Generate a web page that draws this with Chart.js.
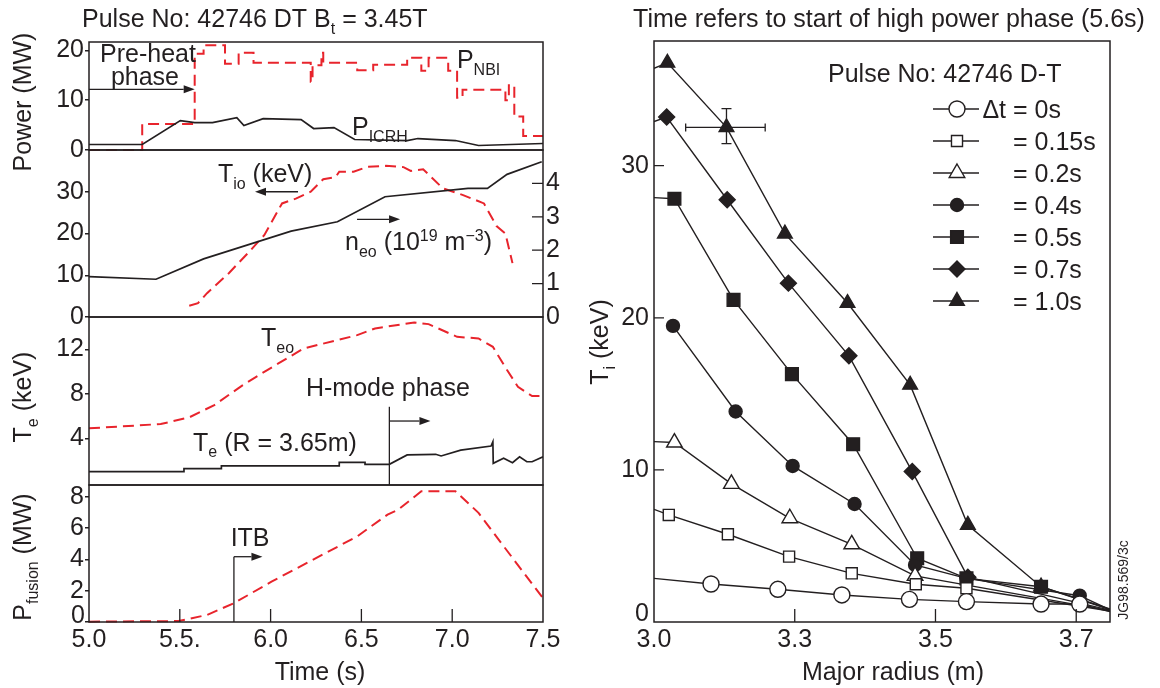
<!DOCTYPE html>
<html>
<head>
<meta charset="utf-8">
<script src="https://cdn.jsdelivr.net/npm/chart.js@4.4.1/dist/chart.umd.min.js"></script>
<style>
  html, body { margin: 0; padding: 0; background: #fff; }
  #wrap { position: relative; width: 1160px; height: 688px; }
  #wrap canvas { position: absolute; left: 0; top: 0; }
</style>
</head>
<body>
<div id="wrap">
  <canvas id="c1" width="1160" height="688"></canvas>
  <canvas id="c2" width="1160" height="688"></canvas>
  <canvas id="c3" width="1160" height="688"></canvas>
  <canvas id="c4" width="1160" height="688"></canvas>
  <canvas id="c5" width="1160" height="688"></canvas>
</div>
<script>
const INK  = '#231f20';
const RED  = '#e8242c';
const FONT = '"Liberation Sans", Arial, Helvetica, sans-serif';

/* ---------- data: left panels (time, s) ---------- */
const NBI_T  = [5.0, 5.293, 5.582, 5.631, 5.749, 5.824, 5.906, 6.221, 6.231, 6.280, 6.290, 6.477, 6.565, 6.752, 6.830, 6.870, 6.978, 7.027, 7.057, 7.293, 7.312, 7.342, 7.391, 7.5];
const NBI_P  = [0,   5.2,   19.3,  21.0,  17.3,  19.5,  17.5,  13.7,  17.0,  19.5,  17.5,  16.0,  17.1,  18.5,  15.9,  18.5,  15.9,  10.5,  12.1,  10.0,  13.0,  6.7,   2.8,   2.8];
const ICRH_T = [5.0, 5.293, 5.503, 5.582, 5.680, 5.814, 5.853, 5.959, 6.168, 6.237, 6.349, 6.463, 6.752, 6.811, 7.018, 7.145, 7.5];
const ICRH_P = [1.1, 1.1,   5.9,   5.5,   5.5,   6.5,   4.9,   6.3,   6.1,   4.3,   4.5,   2.1,   1.9,   2.3,   1.9,   0.9,   1.3];

const TI_T   = [5.552, 5.60, 5.65, 5.77, 5.89, 5.965, 6.063, 6.142, 6.221, 6.29, 6.358, 6.378, 6.457, 6.535, 6.634, 6.732, 6.772, 6.84, 6.949, 7.06, 7.175, 7.244, 7.293, 7.332];
const TI_KEV = [2.7,   3.3,  5.7,  10.5, 16.0, 19.6,  27.2,  28.4,  30.0,  33.0, 33.5,  34.8,  34.8,  36.0,  36.2,  35.9,  35.0,  35.4, 30.8,  29.2, 27.2,  21.8,  20.0,  12.9];
const NE_T   = [5.0,  5.369, 5.631, 6.113, 6.368, 6.630, 7.087, 7.194, 7.302, 7.493];
const NE_V   = [1.21, 1.13,  1.74,  2.57,  2.85,  3.60,  3.85,  3.85,  4.27,  4.65];

const TEO_T   = [5.0,  5.395, 5.552, 5.690, 5.847, 5.965, 6.182, 6.477, 6.575, 6.791, 6.870, 7.027, 7.145, 7.224, 7.302, 7.362, 7.440, 7.5];
const TEO_KEV = [4.89, 5.28,  5.88,  6.98,  8.78,  9.97,  12.07, 13.27, 13.87, 14.41, 14.26, 13.12, 12.97, 12.22, 10.13, 8.63,  7.79,  7.79];
const TE365_T   = [5.0, 5.523, 5.523, 5.729, 5.729, 6.378, 6.378, 6.520, 6.520, 6.654, 6.752, 6.909, 6.939, 7.047, 7.214, 7.224, 7.226, 7.283, 7.332, 7.371, 7.411, 7.44, 7.5];
const TE365_KEV = [1.0, 1.0,   1.27,  1.27,  1.51,  1.51,  1.84,  1.84,  1.66,  1.66,  2.50,  2.56,  2.41,  2.94,  3.30,  3.69,  1.75,  2.20,  1.80,  2.34,  1.89,  1.89, 2.34];

const PF_T  = [5.0,  5.493, 5.650, 5.798, 6.005, 6.477, 6.644, 6.703, 6.830, 7.018, 7.145, 7.263, 7.5];
const PF_MW = [0.02, 0.06,  0.45,  1.2,   2.58,  5.47,  6.86,  7.18,  8.35,  8.35,  6.97,  5.15,  1.52];

/* ---------- data: right panel (major radius, m / Ti, keV) ---------- */
const DT_LABELS = ['Δt = 0s', '= 0.15s', '= 0.2s', '= 0.4s', '= 0.5s', '= 0.7s', '= 1.0s'];
const R_000 = [3.10, 3.181, 3.276, 3.367, 3.463, 3.544, 3.650, 3.705, 3.748];
const T_000 = [2.87, 2.50,  2.15,  1.78,  1.49,  1.34,  1.18,  1.18,  0.68];
const R_015 = [3.10, 3.121, 3.205, 3.292, 3.381, 3.472, 3.544, 3.748];
const T_015 = [7.41, 7.04,  5.77,  4.30,  3.20,  2.48,  2.22,  0.72];
const R_020 = [3.10,  3.129, 3.210, 3.293, 3.381, 3.471, 3.748];
const T_020 = [11.86, 11.80, 9.08,  6.82,  5.11,  3.03,  0.75];
const R_040 = [3.127, 3.216, 3.297, 3.385, 3.471, 3.544, 3.705, 3.748];
const T_040 = [19.47, 13.84, 10.26, 7.76,  3.75,  2.87,  1.73,  0.80];
const R_050 = [3.10, 3.129, 3.213, 3.296, 3.383, 3.474, 3.544, 3.650, 3.748];
const T_050 = [27.9, 27.83, 21.18, 16.30, 11.69, 4.19,  2.87,  2.32,  0.82];
const R_070 = [3.10, 3.118, 3.204, 3.291, 3.377, 3.467, 3.546, 3.748];
const T_070 = [32.9, 33.20, 27.76, 22.28, 17.50, 9.89,  2.95,  0.78];
const R_100 = [3.10, 3.119, 3.203, 3.286, 3.375, 3.464, 3.546, 3.650, 3.748];
const T_100 = [36.4, 36.76, 32.52, 25.53, 20.97, 15.59, 6.38,  2.32,  0.85];
const ERR_R  = [3.145, 3.258];   // horizontal error bar on the 1.0s point
const ERR_TI = [31.45, 33.75];
const ERR_AT = [3.203, 32.52];

/* ---------- ticks ---------- */
const POWER_TICKS = [0, 10, 20];
const TI_TICKS    = [0, 10, 20, 30];
const NE_TICKS    = [0, 1, 2, 3, 4];
const TE_TICKS    = [4, 8, 12];
const PF_TICKS    = [0, 2, 4, 6, 8];
const TIME_TICKS  = [5.0, 5.5, 6.0, 6.5, 7.0, 7.5];
const TIME_LABELS = ['5.0', '5.5.', '6.0', '6.5', '7.0', '7.5'];
const R_TICKS     = [3.1, 3.3, 3.5, 3.7];
const R_LABELS    = ['3.0', '3.3', '3.5', '3.7'];
const TIR_TICKS   = [0, 10, 20, 30];

Chart.defaults.font.family = FONT;
Chart.defaults.font.size = 25;
Chart.defaults.color = INK;
Chart.defaults.animation = false;
Chart.defaults.events = [];
Chart.defaults.plugins.legend.display = false;
Chart.defaults.plugins.tooltip.enabled = false;

const pts = (xs, ys) => xs.map((x, i) => ({ x, y: ys[i] }));
const fixTicks = vals => s => { s.ticks = vals.map(v => ({ value: v })); };

/* ---------- drawing helpers ---------- */
function rich(ctx, x, y, parts, size, align) {
    const seg = parts.map(([t, k]) => {
        const s = k ? size * 0.64 : size;
        ctx.font = `${s}px ${FONT}`;
        return { t, k, s, w: ctx.measureText(t).width };
    });
    const total = seg.reduce((a, b) => a + b.w, 0);
    let cx = align === 'center' ? x - total / 2 : align === 'right' ? x - total : x;
    ctx.textAlign = 'left';
    ctx.textBaseline = 'alphabetic';
    seg.forEach(s => {
        ctx.font = `${s.s}px ${FONT}`;
        const dy = s.k === 'sub' ? size * 0.27 : s.k === 'sup' ? -size * 0.36 : 0;
        ctx.fillText(s.t, cx, y + dy);
        cx += s.w;
    });
}
function vtitle(ctx, bx, cy, parts, size) {
    ctx.save();
    ctx.translate(bx, cy);
    ctx.rotate(-Math.PI / 2);
    rich(ctx, 0, 0, parts, size || 25, 'center');
    ctx.restore();
}
function arrow(ctx, x1, y1, x2, y2) {
    const a = Math.atan2(y2 - y1, x2 - x1), L = 11, W = 4;
    ctx.beginPath();
    ctx.moveTo(x1, y1);
    ctx.lineTo(x2 - L * Math.cos(a), y2 - L * Math.sin(a));
    ctx.stroke();
    ctx.beginPath();
    ctx.moveTo(x2, y2);
    ctx.lineTo(x2 - L * Math.cos(a) - W * Math.sin(a), y2 - L * Math.sin(a) + W * Math.cos(a));
    ctx.lineTo(x2 - L * Math.cos(a) + W * Math.sin(a), y2 - L * Math.sin(a) - W * Math.cos(a));
    ctx.closePath();
    ctx.fill();
}
function box(ctx, a) {
    ctx.strokeStyle = INK;
    ctx.lineWidth = 1.5;
    ctx.strokeRect(a.left, a.top, a.right - a.left, a.bottom - a.top);
}
function innerTicks(ctx, scale, vals, len, side) {
    ctx.strokeStyle = INK;
    ctx.lineWidth = 1.3;
    ctx.beginPath();
    vals.forEach(v => {
        const p = scale.getPixelForValue(v);
        if (side === 'bottom') { ctx.moveTo(p, scale.top); ctx.lineTo(p, scale.top - len); }
        if (side === 'left')   { ctx.moveTo(scale.right, p); ctx.lineTo(scale.right + len, p); }
        if (side === 'right')  { ctx.moveTo(scale.left, p); ctx.lineTo(scale.left - len, p); }
    });
    ctx.stroke();
}

/* ---------- left panel factory ---------- */
const L_LEFT = 89, L_RIGHT = 543, YW = 80;
function yLeft(min, max, ticks, labelFn) {
    return {
        type: 'linear', position: 'left', min, max,
        afterBuildTicks: fixTicks(ticks),
        afterFit: s => { s.width = YW; },
        grid: { drawOnChartArea: false, tickLength: 4, color: INK, lineWidth: 1.5 },
        border: { display: false },
        ticks: { padding: 1, callback: labelFn || (v => String(v)) }
    };
}
function xTime(show) {
    return {
        type: 'linear', min: 5.0, max: 7.5, display: show,
        afterBuildTicks: fixTicks(TIME_TICKS),
        afterFit: s => { s.height = show ? 40 : 0; },
        grid: { drawOnChartArea: false, drawTicks: false },
        border: { display: false },
        ticks: { padding: 3, autoSkip: false, maxRotation: 0, callback: (v, i) => TIME_LABELS[i] }
    };
}
function leftChart(id, top, bottom, datasets, scales, deco, hasY2, hasX) {
    return new Chart(document.getElementById(id), {
        type: 'line',
        data: { datasets },
        options: {
            responsive: false,
            layout: { padding: {
                left: L_LEFT - YW, top,
                right: 1160 - L_RIGHT - (hasY2 ? 40 : 0),
                bottom: hasX ? 688 - 622 - 40 : 688 - bottom } },
            scales
        },
        plugins: [deco]
    });
}
const redLine = d => ({ data: d, borderColor: RED, borderWidth: 2, borderDash: [11, 6], pointRadius: 0, clip: false });
const blkLine = d => ({ data: d, borderColor: INK, borderWidth: 1.7, pointRadius: 0 });

/* ---------- panel 1: power ---------- */
leftChart('c1', 42, 150,
    [blkLine(pts(ICRH_T, ICRH_P)), Object.assign(redLine(pts(NBI_T, NBI_P)), { stepped: true })],
    { x: xTime(false), y: yLeft(0, 21.66, POWER_TICKS) },
    { id: 'deco1', afterDraw(chart) {
        const { ctx, chartArea: a, scales: { x, y } } = chart;
        ctx.save();
        box(ctx, a);
        ctx.fillStyle = INK; ctx.strokeStyle = INK; ctx.lineWidth = 1.3;
        rich(ctx, 82, 27, [['Pulse No: 42746 DT B', ''], ['t', 'sub'], [' = 3.45T', '']], 25, 'left');
        vtitle(ctx, 31, 102, [['Power (MW)', '']]);
        rich(ctx, x.getPixelForValue(5.061), y.getPixelForValue(17.65), [['Pre-heat', '']], 25, 'left');
        rich(ctx, x.getPixelForValue(5.308), y.getPixelForValue(13.0), [['phase', '']], 25, 'center');
        arrow(ctx, x.getPixelForValue(5.0), y.getPixelForValue(12.17), x.getPixelForValue(5.582), y.getPixelForValue(12.17));
        rich(ctx, x.getPixelForValue(7.026), y.getPixelForValue(16.4), [['P', ''], ['NBI', 'sub']], 25, 'left');
        rich(ctx, x.getPixelForValue(6.448), y.getPixelForValue(3.0), [['P', ''], ['ICRH', 'sub']], 25, 'left');
        ctx.restore();
    } }, false, false);

/* ---------- panel 2: Ti and ne ---------- */
leftChart('c2', 150, 317,
    [Object.assign(blkLine(pts(NE_T, NE_V)), { yAxisID: 'y2' }), redLine(pts(TI_T, TI_KEV))],
    {
        x: xTime(false),
        y: yLeft(0, 40, TI_TICKS),
        y2: {
            type: 'linear', position: 'right', min: 0, max: 5,
            afterBuildTicks: fixTicks(NE_TICKS),
            afterFit: s => { s.width = 40; },
            grid: { drawOnChartArea: false, drawTicks: false },
            border: { display: false },
            ticks: { padding: 3 }
        }
    },
    { id: 'deco2', afterDraw(chart) {
        const { ctx, chartArea: a, scales: { x, y, y2 } } = chart;
        ctx.save();
        box(ctx, a);
        innerTicks(ctx, y2, [1, 2, 3, 4], 11, 'right');
        ctx.fillStyle = INK; ctx.strokeStyle = INK; ctx.lineWidth = 1.3;
        rich(ctx, x.getPixelForValue(5.710), y.getPixelForValue(32.3), [['T', ''], ['io', 'sub'], [' (keV)', '']], 25, 'left');
        arrow(ctx, x.getPixelForValue(6.151), y.getPixelForValue(30.0), x.getPixelForValue(5.914), y.getPixelForValue(30.0));
        rich(ctx, x.getPixelForValue(6.410), y.getPixelForValue(16.05),
            [['n', ''], ['eo', 'sub'], [' (10', ''], ['19', 'sup'], [' m', ''], ['\u22123', 'sup'], [')', '']], 25, 'left');
        arrow(ctx, x.getPixelForValue(6.476), y.getPixelForValue(23.4), x.getPixelForValue(6.713), y.getPixelForValue(23.4));
        ctx.restore();
    } }, true, false);

/* ---------- panel 3: Te ---------- */
leftChart('c3', 317, 485,
    [blkLine(pts(TE365_T, TE365_KEV)), redLine(pts(TEO_T, TEO_KEV))],
    { x: xTime(false), y: yLeft(-0.2, 14.9, TE_TICKS) },
    { id: 'deco3', afterDraw(chart) {
        const { ctx, chartArea: a, scales: { x, y } } = chart;
        ctx.save();
        box(ctx, a);
        ctx.fillStyle = INK; ctx.strokeStyle = INK; ctx.lineWidth = 1.3;
        vtitle(ctx, 31, 397, [['T', ''], ['e', 'sub'], [' (keV)', '']]);
        rich(ctx, x.getPixelForValue(5.947), y.getPixelForValue(12.31), [['T', ''], ['eo', 'sub']], 25, 'left');
        rich(ctx, x.getPixelForValue(5.573), y.getPixelForValue(2.88), [['T', ''], ['e', 'sub'], [' (R = 3.65m)', '']], 25, 'left');
        rich(ctx, x.getPixelForValue(6.646), y.getPixelForValue(7.76), [['H-mode phase', '']], 25, 'center');
        const hx = x.getPixelForValue(6.654);
        ctx.beginPath(); ctx.moveTo(hx, y.getPixelForValue(6.83)); ctx.lineTo(hx, a.bottom); ctx.stroke();
        arrow(ctx, hx, y.getPixelForValue(5.55), x.getPixelForValue(6.880), y.getPixelForValue(5.55));
        ctx.restore();
    } }, false, false);

/* ---------- panel 4: fusion power ---------- */
leftChart('c4', 485, 622,
    [redLine(pts(PF_T, PF_MW))],
    { x: xTime(true), y: yLeft(0, 8.75, PF_TICKS, v => (v === 0 ? '' : String(v))) },
    { id: 'deco4', afterDraw(chart) {
        const { ctx, chartArea: a, scales: { x, y } } = chart;
        ctx.save();
        box(ctx, a);
        innerTicks(ctx, x, [5.5, 6.0, 6.5, 7.0], 13, 'bottom');
        ctx.fillStyle = INK; ctx.strokeStyle = INK; ctx.lineWidth = 1.3;
        ctx.font = `25px ${FONT}`; ctx.textAlign = 'right'; ctx.textBaseline = 'middle';
        ctx.fillText('0', a.left - 4, y.getPixelForValue(0) - 6);
        vtitle(ctx, 31, 557, [['P', ''], ['fusion', 'sub'], [' (MW)', '']]);
        rich(ctx, 320, 680, [['Time (s)', '']], 25, 'center');
        rich(ctx, x.getPixelForValue(5.887), y.getPixelForValue(4.87), [['ITB', '']], 25, 'center');
        const ix = x.getPixelForValue(5.798);
        ctx.beginPath(); ctx.moveTo(ix, a.bottom); ctx.lineTo(ix, y.getPixelForValue(4.17)); ctx.stroke();
        arrow(ctx, ix, y.getPixelForValue(4.17), x.getPixelForValue(5.955), y.getPixelForValue(4.17));
        ctx.restore();
    } }, false, true);

/* ---------- right panel: Ti profiles ---------- */
const R_SERIES = [[R_000, T_000], [R_015, T_015], [R_020, T_020], [R_040, T_040], [R_050, T_050], [R_070, T_070], [R_100, T_100]];
const R_MARK = [
    { style: 'circle',   filled: false, r: 8 },
    { style: 'rect',     filled: false, r: 7.8 },
    { style: 'triangle', filled: false, r: 9 },
    { style: 'circle',   filled: true,  r: 6.5 },
    { style: 'rect',     filled: true,  r: 9 },
    { style: 'rectRot',  filled: true,  r: 8 },
    { style: 'triangle', filled: true,  r: 8.5 }
];
const R_MIN = 3.1, R_MAX = 3.748;
const rDatasets = R_SERIES.map(([xs, ys], i) => ({
    label: DT_LABELS[i],
    data: pts(xs, ys),
    borderColor: INK, borderWidth: 1.4,
    pointStyle: R_MARK[i].style,
    pointRadius: c => (c.raw && (c.raw.x <= R_MIN || c.raw.x >= R_MAX) ? 0 : R_MARK[i].r),
    pointBackgroundColor: R_MARK[i].filled ? INK : '#fff',
    pointBorderColor: INK, pointBorderWidth: 1.4
}));

function marker(ctx, m, x, y) {
    ctx.fillStyle = m.filled ? INK : '#fff';
    ctx.strokeStyle = INK;
    ctx.lineWidth = 1.4;
    if (Chart.helpers && Chart.helpers.drawPoint) {
        Chart.helpers.drawPoint(ctx, { pointStyle: m.style, rotation: 0, radius: m.r, borderWidth: 1.4 }, x, y);
    } else {
        ctx.beginPath(); ctx.arc(x, y, m.r, 0, Math.PI * 2); ctx.fill(); ctx.stroke();
    }
}

new Chart(document.getElementById('c5'), {
    type: 'line',
    data: { datasets: rDatasets },
    options: {
        responsive: false,
        layout: { padding: { left: 654 - 60, top: 41, right: 1160 - 1110, bottom: 688 - 622 - 40 } },
        scales: {
            x: {
                type: 'linear', min: R_MIN, max: R_MAX,
                afterBuildTicks: fixTicks(R_TICKS),
                afterFit: s => { s.height = 40; },
                grid: { drawOnChartArea: false, drawTicks: false },
                border: { display: false },
                ticks: { padding: 3, autoSkip: false, maxRotation: 0, callback: (v, i) => R_LABELS[i] }
            },
            y: {
                type: 'linear', min: 0, max: 38.2,
                afterBuildTicks: fixTicks(TIR_TICKS),
                afterFit: s => { s.width = 60; },
                grid: { drawOnChartArea: false, drawTicks: false },
                border: { display: false },
                ticks: { padding: 5, callback: v => (v === 0 ? '' : String(v)) }
            }
        }
    },
    plugins: [{ id: 'decoR', afterDraw(chart) {
        const { ctx, chartArea: a, scales: { x, y } } = chart;
        ctx.save();
        box(ctx, a);
        innerTicks(ctx, x, [3.3, 3.5, 3.7], 13, 'bottom');
        innerTicks(ctx, y, [10, 20, 30], 10, 'left');
        ctx.fillStyle = INK; ctx.strokeStyle = INK;
        ctx.font = `25px ${FONT}`; ctx.textAlign = 'right'; ctx.textBaseline = 'middle';
        ctx.fillText('0', a.left - 5, y.getPixelForValue(0) - 8);
        rich(ctx, 889, 27, [['Time refers to start of high power phase (5.6s)', '']], 25, 'center');
        vtitle(ctx, 608, 342, [['T', ''], ['i', 'sub'], [' (keV)', '']]);
        rich(ctx, 893, 680, [['Major radius (m)', '']], 25, 'center');
        vtitle(ctx, 1128, 580, [['JG98.569/3c', '']], 14);
        rich(ctx, 828, 82, [['Pulse No: 42746 D-T', '']], 25, 'left');

        // legend
        DT_LABELS.forEach((lab, i) => {
            const ry = 109 + i * 32;
            ctx.strokeStyle = INK; ctx.lineWidth = 1.4;
            ctx.beginPath(); ctx.moveTo(933, ry); ctx.lineTo(979, ry); ctx.stroke();
            marker(ctx, R_MARK[i], 957, ry);
            ctx.fillStyle = INK;
            ctx.font = `25px ${FONT}`;
            let tx = 1013;
            if (lab.startsWith('Δt ')) tx -= ctx.measureText('Δt ').width;
            rich(ctx, tx, ry + 9, [[lab, '']], 25, 'left');
        });

        // error bar
        ctx.strokeStyle = INK; ctx.lineWidth = 1.3;
        const ex0 = x.getPixelForValue(ERR_R[0]), ex1 = x.getPixelForValue(ERR_R[1]);
        const ey0 = y.getPixelForValue(ERR_TI[0]), ey1 = y.getPixelForValue(ERR_TI[1]);
        const cx = x.getPixelForValue(ERR_AT[0]), cy = y.getPixelForValue(ERR_AT[1]);
        ctx.beginPath();
        ctx.moveTo(ex0, cy); ctx.lineTo(ex1, cy);
        ctx.moveTo(ex0, cy - 4); ctx.lineTo(ex0, cy + 4);
        ctx.moveTo(ex1, cy - 4); ctx.lineTo(ex1, cy + 4);
        ctx.moveTo(cx, ey0); ctx.lineTo(cx, ey1);
        ctx.moveTo(cx - 5, ey0); ctx.lineTo(cx + 5, ey0);
        ctx.moveTo(cx - 5, ey1); ctx.lineTo(cx + 5, ey1);
        ctx.stroke();
        ctx.restore();
    } }]
});
</script>
</body>
</html>
